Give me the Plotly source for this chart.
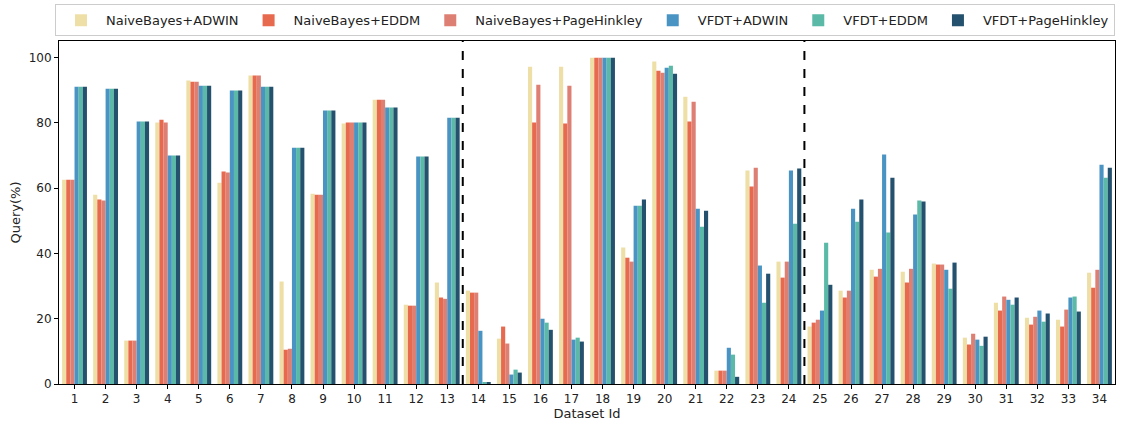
import plotly.graph_objects as go

datasets = [str(i) for i in range(1, 35)]

nb_adwin = [62.6, 58.0, 13.3, 80.1, 93.0, 61.7, 94.5, 31.4, 58.3, 79.8, 87.1, 24.3, 31.1,
            28.6, 13.9, 97.2, 97.2, 100.0, 41.8, 98.8, 88.0, 4.1, 65.4, 37.5,
            17.6, 28.6, 35.0, 34.4, 36.9, 14.2, 24.9, 20.3, 19.7, 34.1]
nb_eddm = [62.6, 56.5, 13.3, 81.0, 92.6, 65.1, 94.5, 10.5, 58.0, 80.1, 87.1, 24.0, 26.5,
           28.0, 17.6, 80.1, 79.8, 100.0, 38.7, 96.0, 80.4, 4.1, 60.5, 32.6,
           18.8, 26.5, 32.9, 31.1, 36.6, 12.1, 22.5, 18.2, 17.6, 29.5]
nb_ph = [62.6, 56.2, 13.3, 80.1, 92.6, 64.8, 94.5, 10.8, 58.0, 80.1, 87.1, 24.0, 26.1,
         28.0, 12.4, 91.7, 91.4, 100.0, 37.5, 95.4, 86.5, 4.1, 66.3, 37.5,
         19.7, 28.6, 35.3, 35.3, 36.6, 15.4, 26.8, 20.6, 22.8, 35.0]
vfdt_adwin = [91.1, 90.5, 80.4, 70.0, 91.4, 89.9, 91.1, 72.4, 83.8, 80.1, 84.7, 69.7, 81.6,
              16.3, 2.9, 20.0, 13.6, 100.0, 54.6, 96.9, 53.7, 11.1, 36.3, 65.4,
              22.5, 53.7, 70.3, 51.9, 35.0, 13.6, 25.8, 22.5, 26.5, 67.2]
vfdt_eddm = [91.1, 90.5, 80.4, 70.0, 91.4, 89.9, 91.1, 72.4, 83.8, 80.1, 84.7, 69.7, 81.6,
             0.4, 4.4, 18.8, 14.2, 100.0, 54.6, 97.5, 48.2, 9.0, 24.9, 49.1,
             43.3, 49.7, 46.4, 56.2, 29.2, 11.7, 24.3, 19.1, 26.8, 63.2]
vfdt_ph = [91.1, 90.5, 80.4, 70.0, 91.4, 89.9, 91.1, 72.4, 83.8, 80.1, 84.7, 69.7, 81.6,
           0.4, 3.5, 16.6, 13.0, 100.0, 56.5, 95.1, 53.1, 2.2, 33.8, 66.0,
           30.4, 56.5, 63.2, 55.9, 37.2, 14.5, 26.5, 21.6, 22.2, 66.3]

series_names = ["NaiveBayes+ADWIN", "NaiveBayes+EDDM", "NaiveBayes+PageHinkley",
                "VFDT+ADWIN", "VFDT+EDDM", "VFDT+PageHinkley"]
series_values = [nb_adwin, nb_eddm, nb_ph, vfdt_adwin, vfdt_eddm, vfdt_ph]
colors = ["#EEDFA7", "#E7694E", "#DE7F73", "#4A94C4", "#5AB9A7", "#24516D"]

separators = [12.5, 23.5]

fig = go.Figure()
for name, vals, col in zip(series_names, series_values, colors):
    fig.add_trace(go.Bar(x=datasets, y=vals, name=name,
                         marker=dict(color=col, line=dict(width=0))))

for s in separators:
    fig.add_shape(type="line", x0=s, x1=s, y0=0, y1=1, xref="x", yref="paper",
                  line=dict(color="black", width=2, dash="dash"))

font_family = "DejaVu Sans"
fig.update_layout(
    width=1132, height=425,
    margin=dict(l=59, r=17, t=41, b=41),
    paper_bgcolor="white", plot_bgcolor="white",
    barmode="group", bargap=0.2, bargroupgap=0,
    font=dict(family=font_family, color="#222222", size=12),
    legend=dict(orientation="h", x=0.5168, xanchor="center",
                y=0.99, yanchor="top", yref="container", xref="container",
                bordercolor="#CCCCCC", borderwidth=1, font=dict(size=13),
                itemwidth=40, tracegroupgap=0, traceorder="normal"),
    showlegend=True,
)
fig.update_xaxes(
    type="category", range=[-0.5, 33.5], automargin=False,
    showline=True, linecolor="black", linewidth=1, mirror=True,
    ticks="outside", ticklen=4, tickcolor="black", showgrid=False,
    tickfont=dict(size=12),
    title=dict(text="Dataset Id", font=dict(size=13), standoff=0),
)
fig.update_yaxes(
    range=[0, 105.1], tickvals=[0, 20, 40, 60, 80, 100], automargin=False,
    showline=True, linecolor="black", linewidth=1, mirror=True,
    ticks="outside", ticklen=4, tickcolor="black", showgrid=False, zeroline=False,
    tickfont=dict(size=12),
    title=dict(text="Query(%)", font=dict(size=13), standoff=5),
)

fig.write_html("out.html")
